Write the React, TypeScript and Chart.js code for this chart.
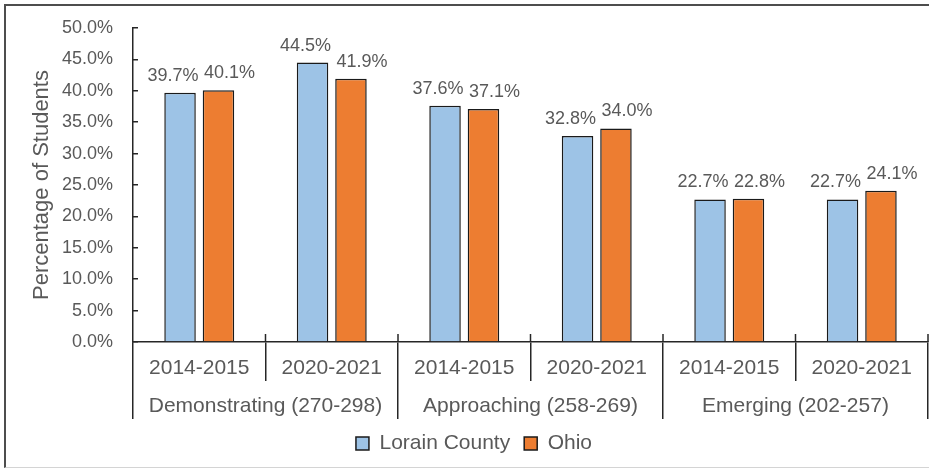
import React, { useEffect, useRef } from 'react';
import { Chart, registerables } from 'chart.js';

Chart.register(...registerables);

const yearLabels = ['2014-2015', '2020-2021', '2014-2015', '2020-2021', '2014-2015', '2020-2021'];
const groupLabels = ['Demonstrating (270-298)', 'Approaching (258-269)', 'Emerging (202-257)'];
const lorainValues = [39.7, 44.5, 37.6, 32.8, 22.7, 22.7];
const ohioValues = [40.1, 41.9, 37.1, 34.0, 22.8, 24.1];
const seriesNames = ['Lorain County', 'Ohio'];
const yMin = 0;
const yMax = 50;
const yStep = 5;
const axisTitle = 'Percentage of Students';

const FONT = '"Liberation Sans", Arial, Helvetica, sans-serif';
const TEXT = '#595959';
const LINE = '#262626';

const valueLabelPlugin = {
  id: 'valueLabels',
  afterDatasetsDraw(chart: any) {
    const ctx = chart.ctx;
    ctx.save();
    ctx.font = `18px ${FONT}`;
    ctx.fillStyle = TEXT;
    ctx.textAlign = 'center';
    ctx.textBaseline = 'middle';
    chart.data.datasets.forEach((ds: any, di: number) => {
      const meta = chart.getDatasetMeta(di);
      const shift = di === 0 ? -7 : 11;
      meta.data.forEach((bar: any, i: number) => {
        const v = ds.data[i];
        ctx.fillText(Number(v).toFixed(1) + '%', bar.x + shift, bar.y - 17);
      });
    });
    ctx.restore();
  },
};

const crossTickPlugin = {
  id: 'crossTicks',
  afterDraw(chart: any) {
    const xs = chart.scales.x;
    const ctx = chart.ctx;
    const n = xs.getLabels().length;
    if (n < 2) return;
    const half = (xs.getPixelForValue(1) - xs.getPixelForValue(0)) / 2;
    const yAxis = chart.chartArea.bottom;
    ctx.save();
    ctx.strokeStyle = LINE;
    ctx.lineWidth = 1.5;
    for (let i = 1; i <= n; i++) {
      const x = xs.getPixelForValue(i - 1) + half;
      ctx.beginPath();
      ctx.moveTo(x, yAxis - 8);
      ctx.lineTo(x, yAxis);
      ctx.stroke();
    }
    ctx.restore();
  },
};

export default function App() {
  const ref = useRef<HTMLCanvasElement | null>(null);

  useEffect(() => {
    if (!ref.current) return;
    const chart = new Chart(ref.current, {
      type: 'bar',
      data: {
        labels: yearLabels,
        datasets: [
          {
            label: seriesNames[0],
            data: lorainValues,
            backgroundColor: '#9DC3E6',
            borderColor: '#1a1a1a',
            borderWidth: 1.5,
            categoryPercentage: 0.58,
            barPercentage: 0.82,
          },
          {
            label: seriesNames[1],
            data: ohioValues,
            backgroundColor: '#ED7D31',
            borderColor: '#1a1a1a',
            borderWidth: 1.5,
            categoryPercentage: 0.58,
            barPercentage: 0.82,
          },
        ],
      },
      options: {
        responsive: false,
        animation: false,
        layout: { padding: { left: 20, right: 1, top: 28, bottom: 8 } },
        plugins: {
          legend: {
            position: 'bottom',
            labels: {
              boxWidth: 13,
              boxHeight: 13,
              padding: 14,
              color: TEXT,
              font: { size: 21, family: FONT },
            },
          },
          tooltip: { enabled: false },
        },
        scales: {
          y: {
            min: yMin,
            max: yMax,
            ticks: {
              stepSize: yStep,
              color: TEXT,
              font: { size: 18, family: FONT },
              padding: 25,
              callback: (v: any) => Number(v).toFixed(1) + '%',
            },
            grid: {
              drawOnChartArea: false,
              drawTicks: true,
              tickLength: -5,
              color: LINE,
              lineWidth: 1.5,
            },
            border: { display: true, color: LINE, width: 1.5 },
            title: {
              display: true,
              text: axisTitle,
              color: TEXT,
              font: { size: 22, family: FONT },
              padding: { top: 9, bottom: 0 },
            },
            afterFit: (s: any) => {
              s.width = 113;
              s.paddingTop = 0;
              s.paddingBottom = 0;
            },
          },
          x: {
            type: 'category',
            offset: true,
            grid: {
              offset: true,
              drawOnChartArea: false,
              drawTicks: true,
              tickLength: 39,
              color: LINE,
              lineWidth: 1.5,
            },
            border: { display: true, color: LINE, width: 1.5 },
            ticks: {
              padding: -25,
              color: TEXT,
              font: { size: 21, family: FONT },
              maxRotation: 0,
              autoSkip: false,
            },
            afterFit: (s: any) => {
              s.height = 39;
            },
          },
          x2: {
            type: 'category',
            position: 'bottom',
            labels: groupLabels,
            offset: true,
            grid: {
              offset: true,
              drawOnChartArea: false,
              drawTicks: true,
              tickLength: 38,
              color: LINE,
              lineWidth: 1.5,
            },
            border: { display: false },
            ticks: {
              padding: -25,
              color: TEXT,
              font: { size: 21, family: FONT },
              maxRotation: 0,
              autoSkip: false,
            },
            afterFit: (s: any) => {
              s.height = 38;
            },
          },
        },
      } as any,
      plugins: [valueLabelPlugin, crossTickPlugin],
    });
    return () => chart.destroy();
  }, []);

  return (
    <div
      style={{
        position: 'fixed',
        left: 0,
        top: 0,
        width: 929,
        height: 472,
        overflow: 'hidden',
        background: '#ffffff',
      }}
    >
      <div
        style={{
          position: 'absolute',
          left: 4,
          top: 4,
          width: 960,
          height: 464,
          borderLeft: '2px solid #4d4d4d',
          borderTop: '2px solid #4d4d4d',
          borderBottom: '1px solid #d4d4d4',
          boxSizing: 'border-box',
        }}
      />
      <canvas
        ref={ref}
        width={929}
        height={472}
        style={{ position: 'absolute', left: 0, top: 0, width: 929, height: 472 }}
      />
    </div>
  );
}
